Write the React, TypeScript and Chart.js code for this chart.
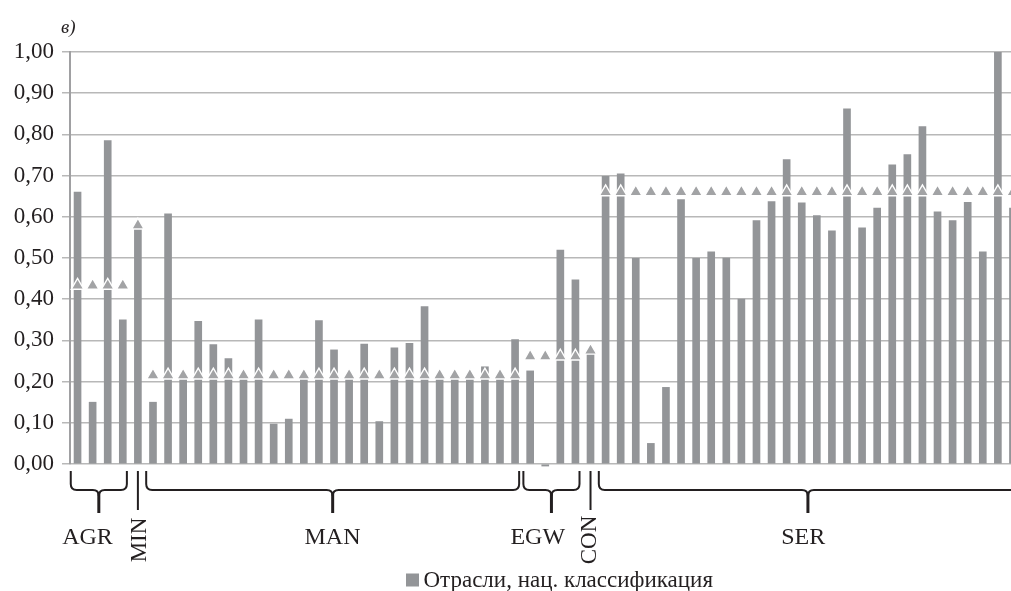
import { useEffect, useRef } from "react";
import { Chart, registerables } from "chart.js";

Chart.register(...registerables);

// ---- data ----
const panelLabel = "в)";
const seriesLabel = "Отрасли, нац. классификация";
const groupNames = ["AGR", "MIN", "MAN", "EGW", "CON", "SER"];
const groupStart = [0, 4, 5, 30, 34, 35];
const groupEnd = [3, 4, 29, 33, 34, 62];
const yTickLabels = ["0,00", "0,10", "0,20", "0,30", "0,40", "0,50", "0,60", "0,70", "0,80", "0,90", "1,00"];

const industryValues = [
  // AGR
  0.66, 0.15, 0.785, 0.35,
  // MIN
  0.58,
  // MAN
  0.15, 0.607, 0.21, 0.346, 0.29, 0.256, 0.21, 0.35, 0.097, 0.109, 0.21, 0.348, 0.277,
  0.21, 0.291, 0.103, 0.282, 0.293, 0.382, 0.21, 0.21, 0.21, 0.236, 0.21, 0.302,
  // EGW
  0.226, -0.005, 0.519, 0.447,
  // CON
  0.275,
  // SER
  0.698, 0.704, 0.499, 0.05, 0.186, 0.642, 0.499, 0.515, 0.5, 0.4, 0.591, 0.637, 0.739,
  0.634, 0.603, 0.566, 0.862, 0.573, 0.621, 0.726, 0.751, 0.819, 0.612, 0.591, 0.635,
  0.515, 0.999, 0.621,
];

const groupLevel = [
  0.433, 0.433, 0.433, 0.433,
  0.579,
  0.215, 0.215, 0.215, 0.215, 0.215, 0.215, 0.215, 0.215, 0.215, 0.215, 0.215, 0.215, 0.215,
  0.215, 0.215, 0.215, 0.215, 0.215, 0.215, 0.215, 0.215, 0.215, 0.215, 0.215, 0.215,
  0.261, 0.261, 0.261, 0.261,
  0.2755,
  0.66, 0.66, 0.66, 0.66, 0.66, 0.66, 0.66, 0.66, 0.66, 0.66, 0.66, 0.66, 0.66,
  0.66, 0.66, 0.66, 0.66, 0.66, 0.66, 0.66, 0.66, 0.66, 0.66, 0.66, 0.66,
  0.66, 0.66, 0.66,
];

// ---- layout / style ----
const FONT = "'Liberation Serif', 'DejaVu Serif', serif";
const TEXT = "#231f20";
const BAR = "#939598";
const TRI = "#a2a3a5";
const GRID = "#b8b8b8";
// label centre positions (in bar-index units) for group names
const labelAt = [0.66, 4.14, 16.9, 30.5, 33.99, 48.1];

const annotations = {
  id: "annotations",
  afterDraw(chart: any) {
    const { ctx, chartArea, scales } = chart;
    const xs = scales.x;
    const px = (v: number) => xs.getPixelForValue(v);
    const b = chartArea.bottom;
    const yTop = b + 7;
    const yMid = b + 26;
    const yBot = b + 49;
    const r = 6;
    ctx.save();
    ctx.strokeStyle = TEXT;
    ctx.fillStyle = TEXT;
    ctx.lineWidth = 2;
    ctx.lineCap = "butt";
    for (let g = 0; g < groupNames.length; g++) {
      const s = groupStart[g];
      const e = groupEnd[g];
      if (s === e) {
        const x = px(s);
        ctx.beginPath();
        ctx.moveTo(x, yTop);
        ctx.lineTo(x, yBot - 3);
        ctx.stroke();
        ctx.save();
        ctx.translate(px(labelAt[g]), b + 76);
        ctx.rotate(-Math.PI / 2);
        ctx.font = `23px ${FONT}`;
        ctx.textAlign = "center";
        ctx.textBaseline = "middle";
        ctx.fillText(groupNames[g], 0, 0);
        ctx.restore();
      } else {
        const x1 = px(s - 0.45);
        const x2 = px(e + 0.27);
        const xc = (x1 + x2) / 2;
        ctx.beginPath();
        ctx.moveTo(x1, yTop);
        ctx.lineTo(x1, yMid - r);
        ctx.quadraticCurveTo(x1, yMid, x1 + r, yMid);
        ctx.lineTo(xc - r, yMid);
        ctx.quadraticCurveTo(xc, yMid, xc, yMid + r);
        ctx.moveTo(xc, yMid + r);
        ctx.quadraticCurveTo(xc, yMid, xc + r, yMid);
        ctx.lineTo(x2 - r, yMid);
        ctx.quadraticCurveTo(x2, yMid, x2, yMid - r);
        ctx.lineTo(x2, yTop);
        ctx.stroke();
        ctx.beginPath();
        ctx.lineWidth = 3;
        ctx.moveTo(xc, yMid + 2);
        ctx.lineTo(xc, yBot);
        ctx.stroke();
        ctx.lineWidth = 2;
        ctx.font = `24px ${FONT}`;
        ctx.textAlign = "center";
        ctx.textBaseline = "alphabetic";
        ctx.fillText(groupNames[g], px(labelAt[g]), b + 80);
      }
    }
    // panel label
    ctx.font = `italic 19px ${FONT}`;
    ctx.textAlign = "left";
    ctx.textBaseline = "alphabetic";
    ctx.fillText(panelLabel, 61, 32.5);
    // legend
    const label = chart.data.datasets[1].label;
    ctx.fillStyle = BAR;
    ctx.fillRect(406, 573.5, 13, 13);
    ctx.fillStyle = TEXT;
    ctx.font = `23px ${FONT}`;
    ctx.fillText(label, 423.5, 587);
    ctx.restore();
  },
};

export default function App() {
  const ref = useRef<HTMLCanvasElement | null>(null);
  useEffect(() => {
    if (!ref.current) return;
    const chart = new Chart(ref.current, {
      type: "bar",
      data: {
        datasets: [
          {
            type: "line",
            label: "level",
            data: groupLevel.map((v, i) => ({ x: i, y: v })),
            showLine: false,
            pointStyle: "triangle",
            pointRadius: 7.2,
            pointHoverRadius: 7.2,
            pointBackgroundColor: TRI,
            pointBorderColor: "#ffffff",
            pointBorderWidth: 1.4,
            clip: false,
            order: 0,
          } as any,
          {
            type: "bar",
            label: seriesLabel,
            data: industryValues.map((v, i) => ({ x: i, y: v })),
            backgroundColor: BAR,
            borderWidth: 0,
            barThickness: 7,
            clip: false,
            order: 1,
          } as any,
        ],
      },
      options: {
        animation: false,
        responsive: true,
        maintainAspectRatio: false,
        events: [],
        layout: { autoPadding: false, padding: { top: 52, bottom: 127, left: 0, right: 0 } },
        plugins: { legend: { display: false }, tooltip: { enabled: false } },
        scales: {
          x: {
            type: "linear",
            min: -0.5,
            max: 61.87,
            offset: false,
            display: false,
            bounds: "data",
            ticks: { display: false },
          },
          y: {
            min: 0,
            max: 1,
            afterFit: (s: any) => {
              s.width = 70;
            },
            ticks: {
              stepSize: 0.1,
              padding: 8,
              color: TEXT,
              font: { family: FONT, size: 23 },
              callback: (_v: any, i: number) => yTickLabels[i],
            },
            grid: { color: GRID, lineWidth: 1.5, tickLength: 8, tickColor: GRID },
            border: { display: true, color: "#a0a0a2", width: 2 },
          },
        },
      },
      plugins: [annotations],
    });
    return () => chart.destroy();
  }, []);
  return (
    <div style={{ position: "absolute", left: 0, top: 0, width: 1011, height: 591, overflow: "hidden", background: "#fff" }}>
      <canvas ref={ref} />
    </div>
  );
}
